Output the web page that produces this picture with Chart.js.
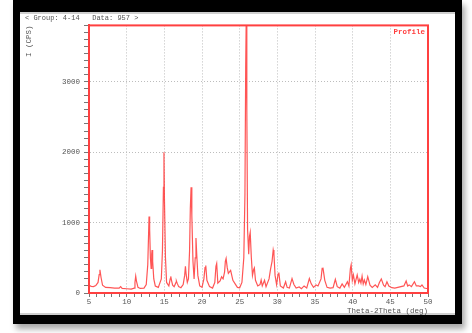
<!DOCTYPE html>
<html>
<head>
<meta charset="utf-8">
<script src="https://cdn.jsdelivr.net/npm/chart.js@4.4.1/dist/chart.umd.min.js"></script>
<style>
    body { margin: 0; background: #fff; }
    #frame {
        position: absolute; left: 13px; top: 0; width: 435px; height: 303px;
        border-style: solid; border-color: #000; border-width: 12px 7px 9px 7px;
        background: #fff;
        box-shadow: 3px 5px 6px rgba(0, 0, 0, 0.35), inset 0 2px 0 #cfcfcf, inset 0 -2px 0 #cfcfcf;
    }
    #xrd { position: absolute; left: 0; top: 0; }
</style>
</head>
<body>
<div id="frame"></div>
<canvas id="xrd" width="472" height="333"></canvas>
<script>
    // Profile (2theta in deg, intensity in CPS)
    var twoTheta = [
        5.0, 5.3, 5.6, 5.9, 6.2, 6.35, 6.45, 6.6, 6.8, 7.2, 7.8, 8.4, 9.0, 9.2, 9.4, 10.0, 10.6,
        11.0, 11.1, 11.2, 11.3, 11.5, 11.8, 12.3, 12.6, 12.8, 12.9, 12.97, 13.05, 13.15, 13.25, 13.32, 13.37, 13.45, 13.6, 13.8, 14.2,
        14.6, 14.75, 14.88, 14.95, 15.02, 15.15, 15.3, 15.6, 15.78, 15.85, 15.95, 16.1, 16.3, 16.55, 16.6, 16.7, 16.9, 17.2, 17.5, 17.7, 17.8, 17.9,
        18.05, 18.2, 18.35, 18.45, 18.55, 18.65, 18.8, 18.95, 19.1, 19.2, 19.3, 19.45, 19.7, 20.0, 20.25, 20.4, 20.5, 20.65,
        21.0, 21.4, 21.7, 21.85, 21.95, 22.1, 22.4, 22.6, 22.8, 23.0, 23.1, 23.2, 23.35, 23.5, 23.8, 24.1,
        24.4, 24.7, 25.0, 25.3, 25.55, 25.7, 25.8, 25.87, 25.95, 26.05, 26.2, 26.3, 26.4, 26.55, 26.7, 26.85, 26.95, 27.1,
        27.4, 27.7, 27.85, 28.0, 28.3, 28.5, 28.9, 29.1, 29.3, 29.45, 29.55, 29.7, 29.9, 30.1, 30.2, 30.4,
        30.8, 31.1, 31.3, 31.6, 31.95, 32.2, 32.5, 32.9, 33.2, 33.55, 33.9, 34.25, 34.5, 34.8,
        35.15, 35.4, 35.8, 35.95, 36.05, 36.3, 36.6, 37.0, 37.4, 37.7, 37.95, 38.3, 38.6, 38.9, 39.3,
        39.5, 39.7, 39.8, 39.95, 40.1, 40.3, 40.6, 40.8, 40.95, 41.1, 41.25, 41.4, 41.55, 41.75,
        42.0, 42.3, 42.6, 43.0, 43.3, 43.55, 43.8, 44.1, 44.3, 44.55, 44.8, 45.2, 45.6, 46.0,
        46.4, 46.8, 47.1, 47.3, 47.5, 47.8, 48.2, 48.45, 48.75, 49.0, 49.2, 49.5, 50.0
    ];
    var intensity = [
        110, 95, 90, 105, 150, 260, 330, 220, 110, 80, 75, 70, 68, 90, 65, 60, 55,
        70, 150, 240, 170, 80, 65, 70, 120, 400, 800, 1085, 900, 500, 350, 550, 610, 450, 200, 100, 80,
        200, 600, 1500, 2000, 1300, 500, 150, 100, 200, 235, 180, 110, 90, 150, 170, 140, 90, 75, 120, 250, 380, 260,
        150, 200, 600, 1200, 1500, 1100, 450, 200, 500, 780, 550, 250, 100, 80, 200, 360, 390, 180,
        90, 70, 150, 380, 420, 140, 170, 230, 200, 300, 450, 490, 360, 280, 320, 180,
        130, 80, 75, 150, 500, 1400, 3200, 3900, 2600, 900, 550, 800, 860, 500, 250, 330, 355, 180,
        100, 120, 185, 100, 180, 90, 200, 340, 450, 610, 550, 250, 120, 270, 290, 100,
        70, 160, 80, 70, 205, 120, 70, 85, 60, 100, 70, 205, 130, 80,
        115, 100, 200, 350, 360, 180, 80, 70, 75, 195, 90, 70, 130, 80, 160,
        100, 350, 400, 180, 256, 130, 256, 150, 195, 140, 240, 130, 185, 120,
        232, 110, 80, 115, 80, 150, 200, 110, 90, 160, 100, 75, 70, 80,
        90, 100, 170, 100, 115, 90, 160, 100, 100, 90, 115, 70, 60
    ];

    // axis settings
    var xMin = 5, xMax = 50, xMajor = 5;
    var yMin = 0, yMax = 3800, yMajor = 1000;

    var headerText = '< Group: 4-14   Data: 957 >';
    var xTitle = 'Theta-2Theta (deg)';
    var yTitle = 'I (CPS)';
    var seriesName = 'Profile';

    var red = '#ff4040';
    var textGray = '#555';
    var monoFont = '"Liberation Mono", "DejaVu Sans Mono", monospace';

    var points = [];
    for (var i = 0; i < twoTheta.length; i++) {
        points.push({ x: twoTheta[i], y: intensity[i] });
    }

    // red box round the plot + the "Profile" tag
    var framePlugin = {
        id: 'frame',
        afterDraw: function (chart) {
            var a = chart.chartArea;
            var ctx = chart.ctx;
            ctx.save();
            ctx.strokeStyle = red;
            ctx.lineWidth = 2;
            ctx.strokeRect(a.left, a.top, a.right - a.left, a.bottom - a.top);
            ctx.font = 'bold 7.5px ' + monoFont;
            ctx.fillStyle = red;
            ctx.textAlign = 'right';
            ctx.textBaseline = 'top';
            ctx.fillText(seriesName, a.right - 3, a.top + 3);
            ctx.restore();
        }
    };

    var ctx = document.getElementById('xrd').getContext('2d');
    var chart = new Chart(ctx, {
        type: 'scatter',
        data: {
            datasets: [{
                label: seriesName,
                data: points,
                showLine: true,
                borderColor: 'rgba(255, 55, 55, 0.85)',
                borderWidth: 1.2,
                pointRadius: 0,
                tension: 0
            }]
        },
        options: {
            responsive: false,
            animation: false,
            layout: { padding: { left: 25, right: 44, top: 0, bottom: 17 } },
            plugins: {
                legend: { display: false },
                tooltip: { enabled: false },
                title: {
                    display: true,
                    text: headerText,
                    align: 'start',
                    color: textGray,
                    font: { family: monoFont, size: 7, weight: 'normal' },
                    padding: { top: 14, bottom: 3 }
                }
            },
            scales: {
                x: {
                    type: 'linear',
                    min: xMin,
                    max: xMax,
                    afterFit: function (scale) { scale.height = 23; },
                    ticks: {
                        stepSize: 1,
                        autoSkip: false,
                        maxRotation: 0,
                        padding: 1,
                        color: textGray,
                        font: { family: monoFont, size: 7.5 },
                        callback: function (v) { return v % xMajor === 0 ? v : ''; }
                    },
                    grid: {
                        color: function (c) {
                            var v = c.tick ? c.tick.value : 0;
                            return (v % xMajor === 0 && v !== xMin && v !== xMax) ? '#bdbdbd' : 'transparent';
                        },
                        tickColor: '#777',
                        tickLength: 4
                    },
                    border: { color: red, width: 2, dash: [1, 2] },
                    title: {
                        display: true,
                        text: xTitle,
                        align: 'end',
                        color: textGray,
                        font: { family: monoFont, size: 7.5 },
                        padding: 0
                    }
                },
                y: {
                    min: yMin,
                    max: yMax,
                    afterFit: function (scale) { scale.width = 64; },
                    ticks: {
                        stepSize: 100,
                        autoSkip: false,
                        padding: 4,
                        color: textGray,
                        font: { family: monoFont, size: 7.5 },
                        callback: function (v) { return v % yMajor === 0 ? v : ''; }
                    },
                    grid: {
                        color: function (c) {
                            var v = c.tick ? c.tick.value : 0;
                            return (v % yMajor === 0 && v !== yMin) ? '#bdbdbd' : 'transparent';
                        },
                        tickColor: '#777',
                        tickLength: 5
                    },
                    border: { color: red, width: 2, dash: [1, 2] },
                    title: {
                        display: true,
                        text: yTitle,
                        align: 'end',
                        color: textGray,
                        font: { family: monoFont, size: 7.5 },
                        padding: 0
                    }
                }
            }
        },
        plugins: [framePlugin]
    });
</script>
</body>
</html>
